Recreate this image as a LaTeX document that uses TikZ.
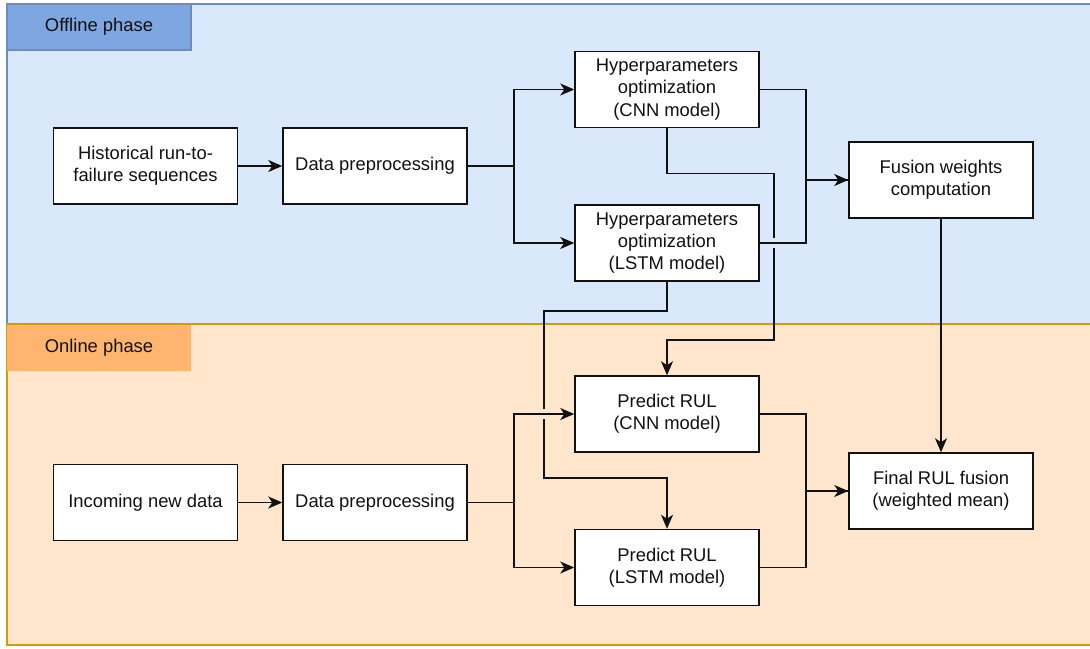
\documentclass[tikz,border=0pt]{standalone}
\usepackage{fontspec}
\setmainfont{Liberation Sans}
\usetikzlibrary{arrows.meta,positioning,calc}
\definecolor{offBg}{HTML}{DAE8FC}
\definecolor{offLn}{HTML}{6C8EBF}
\definecolor{offHd}{HTML}{7EA6E0}
\definecolor{onBg}{HTML}{FFE6CC}
\definecolor{onLn}{HTML}{D79B00}
\definecolor{onHd}{HTML}{FFB570}
\definecolor{blkInk}{HTML}{111111}
\tikzset{
  every picture/.append style={font=\fontsize{9.2}{11.2}\selectfont},
  blk/.style   = {draw=blkInk, fill=white, line width=0.75pt,
                  minimum width=92pt, minimum height=38pt,
                  inner sep=2pt, align=center, text=blkInk},
  phase/.style = {minimum width=92pt, minimum height=23pt, inner sep=0pt,
                  line width=0.75pt, text=blkInk},
  lnk/.style   = {draw=blkInk, line width=0.75pt},
  arr/.style   = {lnk, -{Stealth[length=7pt, width=6pt, inset=2pt]}},
}
\begin{document}
\begin{tikzpicture}[x=0.5pt, y=-0.5pt]
  \useasboundingbox (0,0) rectangle (1090,648);
  % phases
  \filldraw[fill=offBg, draw=offLn, line width=0.75pt] (7,4) rectangle (1094,324);
  \filldraw[fill=onBg, draw=onLn, line width=0.75pt] (7,324) rectangle (1094,645);
  \node[phase, fill=offHd, draw=offLn] (offlbl) at (99,27) {Offline phase};
  \node[phase, fill=onHd] (onlbl) at (99,347.5) {Online phase};

  % offline blocks
  \node[blk] (hist)  at (145.5,166)   {Historical run-to-\\failure sequences};
  \node[blk] (prepA) at (375,166)     {Data preprocessing};
  \node[blk] (hcnn)  at (667,89.5)    {Hyperparameters\\optimization\\(CNN model)};
  \node[blk] (hlstm) at (667,243)     {Hyperparameters\\optimization\\(LSTM model)};
  \node[blk] (fusw)  at (941,180)     {Fusion weights\\computation};
  % online blocks
  \node[blk] (inc)   at (145.5,502.5) {Incoming new data};
  \node[blk] (prepB) at (375,502.5)   {Data preprocessing};
  \node[blk] (pcnn)  at (667,414)     {Predict RUL\\(CNN model)};
  \node[blk] (plstm) at (667,567.5)   {Predict RUL\\(LSTM model)};
  \node[blk] (final) at (941,491)     {Final RUL fusion\\(weighted mean)};

  % trained models handed to the online phase
  \draw[arr] (hcnn.south) -- ++(0,45) -| (774,340) -| (pcnn.north);
  \draw[arr] (hlstm.south) -- ++(0,29) -| (544,478) -| (plstm.north);
  \fill[offBg] (772,238) rectangle (776,248);
  \fill[onBg] (542,409) rectangle (546,419);

  % offline flow
  \draw[arr] (hist) -- (prepA);
  \draw[arr] (prepA.east) -- ++(46,0) |- (hcnn.west);
  \draw[arr] (prepA.east) -- ++(46,0) |- (hlstm.west);
  \draw[arr] (hcnn.east) -- ++(46,0) |- (fusw.west);
  \draw[lnk] (hlstm.east) -- ++(46,0) |- (fusw.west);
  \draw[arr] (fusw) -- (final);

  % online flow
  \draw[arr] (inc) -- (prepB);
  \draw[arr] (prepB.east) -- ++(46,0) |- (pcnn.west);
  \draw[arr] (prepB.east) -- ++(46,0) |- (plstm.west);
  \draw[arr] (pcnn.east) -- ++(46,0) |- (final.west);
  \draw[lnk] (plstm.east) -- ++(46,0) |- (final.west);
\end{tikzpicture}
\end{document}
